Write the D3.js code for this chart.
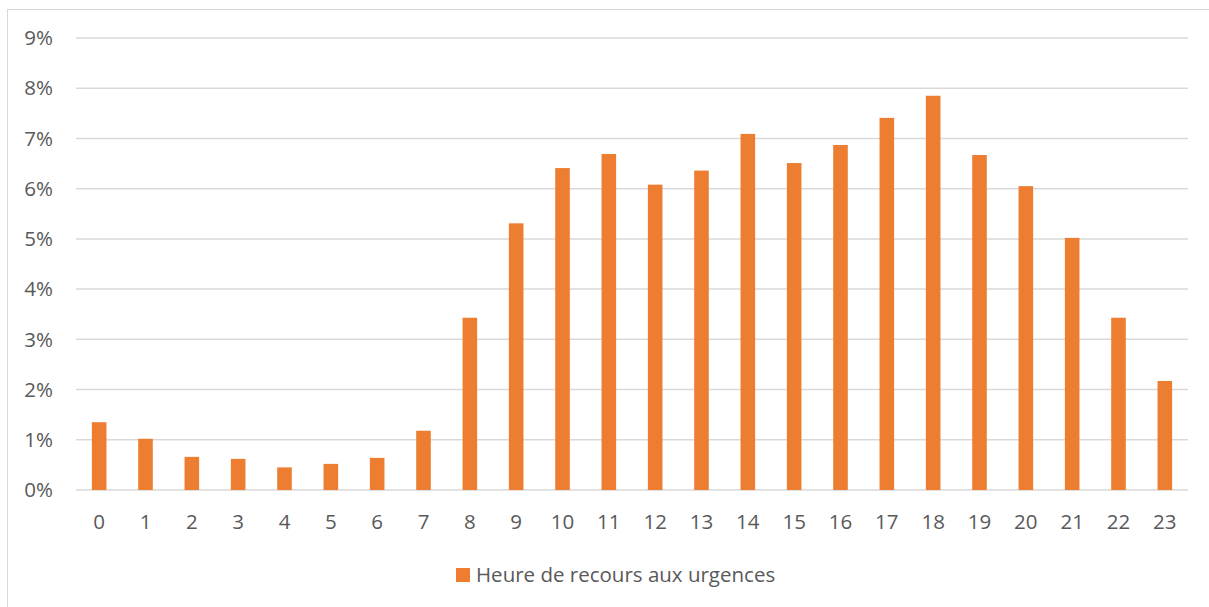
<!DOCTYPE html>
<html>
<head>
<meta charset="utf-8">
<script src="https://cdn.jsdelivr.net/npm/d3@7"></script>
<style>
  body { margin: 0; background: #fff; }
  svg text { font-family: "Open Sans", "Liberation Sans", sans-serif; fill: #595959; }
</style>
</head>
<body>
<svg width="1209" height="607"></svg>
<script>
var hours = d3.range(0, 24).map(String);
var shares = [1.35, 1.02, 0.66, 0.62, 0.45, 0.52, 0.64, 1.18, 3.43, 5.31, 6.41, 6.69,
              6.08, 6.36, 7.09, 6.51, 6.87, 7.41, 7.85, 6.67, 6.05, 5.02, 3.43, 2.17];
var yTicks = [0, 1, 2, 3, 4, 5, 6, 7, 8, 9];
var seriesName = "Heure de recours aux urgences";

var svg = d3.select("svg");
var W = 1209, H = 607;
var plot = { left: 76, right: 1188, top: 38, bottom: 490 };
var BAR_COLOR = "#ED7D31";
var FONT = "20.5px";

// chart frame
svg.append("rect")
	.attr("x", 7.5).attr("y", 9.5)
	.attr("width", W).attr("height", H)
	.attr("fill", "none").attr("stroke", "#d9d9d9").attr("stroke-width", 1);

var x = d3.scaleBand().domain(hours).range([plot.left, plot.right]).paddingInner(0.685).paddingOuter(0.3425);
var y = d3.scaleLinear().domain([0, 9]).range([plot.bottom, plot.top]);

// grid
svg.append("g").selectAll("line").data(yTicks).enter().append("line")
	.attr("x1", plot.left).attr("x2", plot.right)
	.attr("y1", function(d){ return y(d) }).attr("y2", function(d){ return y(d) })
	.attr("stroke", "#d9d9d9").attr("stroke-width", 1.5);

// y labels
svg.append("g").selectAll("text").data(yTicks).enter().append("text")
	.attr("x", 53).attr("y", function(d){ return y(d) })
	.attr("dy", "0.35em").attr("text-anchor", "end")
	.style("font-size", FONT)
	.text(function(d){ return d + "%" });

// bars
svg.append("g").selectAll("rect").data(shares).enter().append("rect")
	.attr("x", function(d, i){ return x(hours[i]) })
	.attr("width", x.bandwidth())
	.attr("y", function(d){ return y(d) })
	.attr("height", function(d){ return y(0) - y(d) })
	.attr("fill", BAR_COLOR);

// x labels
svg.append("g").selectAll("text").data(hours).enter().append("text")
	.attr("x", function(d){ return x(d) + x.bandwidth() / 2 })
	.attr("y", 522).attr("dy", "0.35em").attr("text-anchor", "middle")
	.style("font-size", FONT)
	.text(function(d){ return d });

// legend
var legend = svg.append("g");
legend.append("rect")
	.attr("x", 456).attr("y", 568).attr("width", 14).attr("height", 14)
	.attr("fill", BAR_COLOR);
legend.append("text")
	.attr("x", 476).attr("y", 575).attr("dy", "0.35em")
	.style("font-size", FONT)
	.text(seriesName);
</script>
</body>
</html>
